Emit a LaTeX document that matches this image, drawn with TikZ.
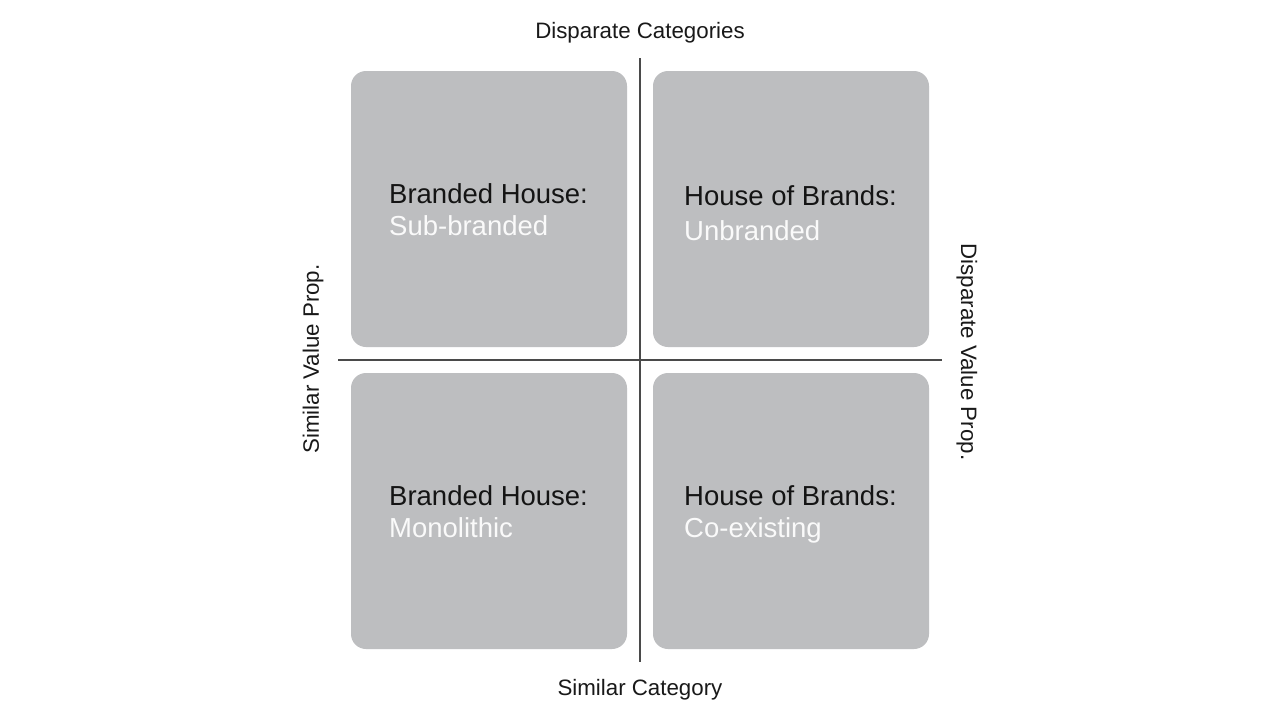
\documentclass[tikz,border=0pt]{standalone}
\usepackage{fontspec}
\setmainfont{Liberation Sans}
\usetikzlibrary{positioning}
\definecolor{boxgray}{HTML}{BDBEC0}
\definecolor{axisgray}{HTML}{4A4A4A}
\tikzset{quad/.style={draw=none, fill=boxgray, rounded corners=15pt,
    minimum width=276pt, minimum height=276pt, inner sep=0pt},
  head/.style={anchor=base west, inner sep=0pt, text=black!92,
    font=\fontsize{27.5}{31}\selectfont},
  sub/.style={anchor=base west, inner sep=0pt, text=white!98!black,
    font=\fontsize{27.5}{31}\selectfont},
  axislabel/.style={inner sep=0pt, text=black!90,
    font=\fontsize{22.3}{26}\selectfont},
  axis/.style={draw=axisgray, line width=2pt}}
\begin{document}
\begin{tikzpicture}[x=1pt, y=-1pt]
      \useasboundingbox [fill=white] (0, 0) rectangle (1280, 720);

      \node [quad] (tl) at (489, 209) {};
      \node [quad] (tr) at (791, 209) {};
      \node [quad] (bl) at (489, 511) {};
      \node [quad] (br) at (791, 511) {};

      \coordinate (top) at (640, 58);
      \coordinate (bottom) at (640, 662);
      \coordinate (left) at (338, 360);
      \coordinate (right) at (942, 360);
      \draw [axis] (top) -- (bottom);
      \draw [axis] (left) -- (right);

      \node [head] (tl-a) at (389, 203) {Branded House:};
      \node [sub] (tl-b) at (389, 235) {Sub-branded};

      \node [head] (tr-a) at (684, 205) {House of Brands:};
      \node [sub] (tr-b) at (684, 240) {Unbranded};

      \node [head] (bl-a) at (389, 505) {Branded House:};
      \node [sub] (bl-b) at (389, 537) {Monolithic};

      \node [head] (br-a) at (684, 505) {House of Brands:};
      \node [sub] (br-b) at (684, 537) {Co-existing};

      \node [axislabel, anchor=base] (dc) at (640, 38) {Disparate Categories};
      \node [axislabel, anchor=base] (sc) at (640, 695) {Similar Category};
      \node [axislabel, rotate=90] (sv) at (313, 359) {Similar Value Prop.};
      \node [axislabel, rotate=-90] (dv) at (967, 352) {Disparate Value Prop.};

    \end{tikzpicture}
\end{document}
